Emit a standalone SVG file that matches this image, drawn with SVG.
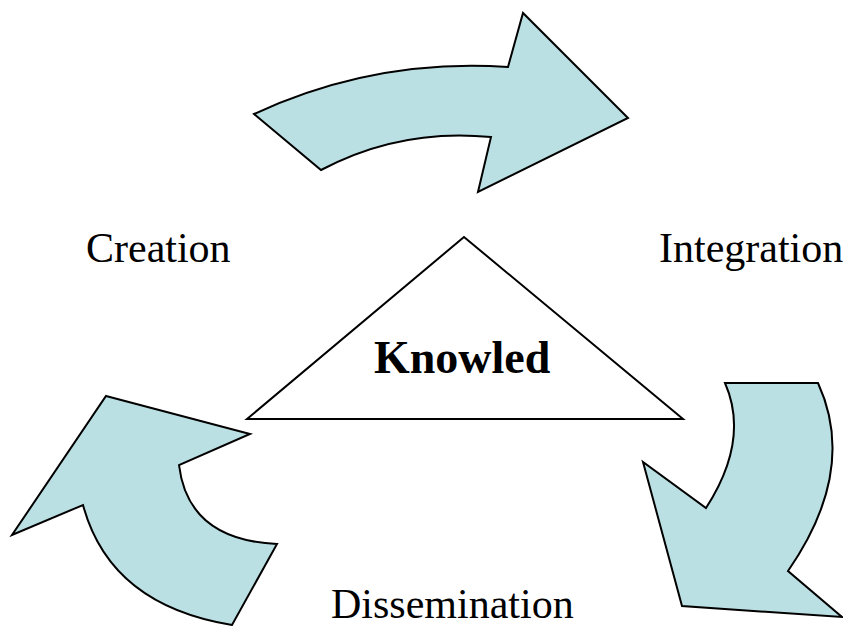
<svg xmlns="http://www.w3.org/2000/svg" width="843" height="629" viewBox="0 0 843 629">
<style>
.arrow{fill:#bbe0e3;stroke:#000;stroke-width:2;stroke-linejoin:miter}
.tri{fill:#fff;stroke:#000;stroke-width:2}
.lbl{font-family:"Liberation Serif","Times New Roman",serif;font-size:42px;fill:#000}
.bold{font-weight:bold;font-size:46px}
</style>
<rect width="843" height="629" fill="#fff"/>
<g id="connectors">
<path id="arrow-top" class="arrow" d="M254,114 Q375,58 508,67 L523,13 L628,118 L478,192 L491,137 Q400,128 321,170 Z"/>
<path id="arrow-right" class="arrow" d="M725,383 L818,383 Q858,470 788,571 L842,617 L682,606 L643,462 L706,508 Q750,440 725,383 Z"/>
<path id="arrow-left" class="arrow" d="M106,396 L250,434 L179,465 Q188,540 277,544 L232,625 Q110,605 83,505 L12,535 Z"/>
</g>
<g id="knowledge">
<polygon class="tri" points="464,237 247,419 683,419"/>
<text class="lbl bold" x="374" y="373">Knowled</text>
</g>
<g id="creation"><text class="lbl" x="86" y="262">Creation</text></g>
<g id="integration"><text class="lbl" x="659" y="262">Integration</text></g>
<g id="dissemination"><text class="lbl" x="331" y="618">Dissemination</text></g>
</svg>
